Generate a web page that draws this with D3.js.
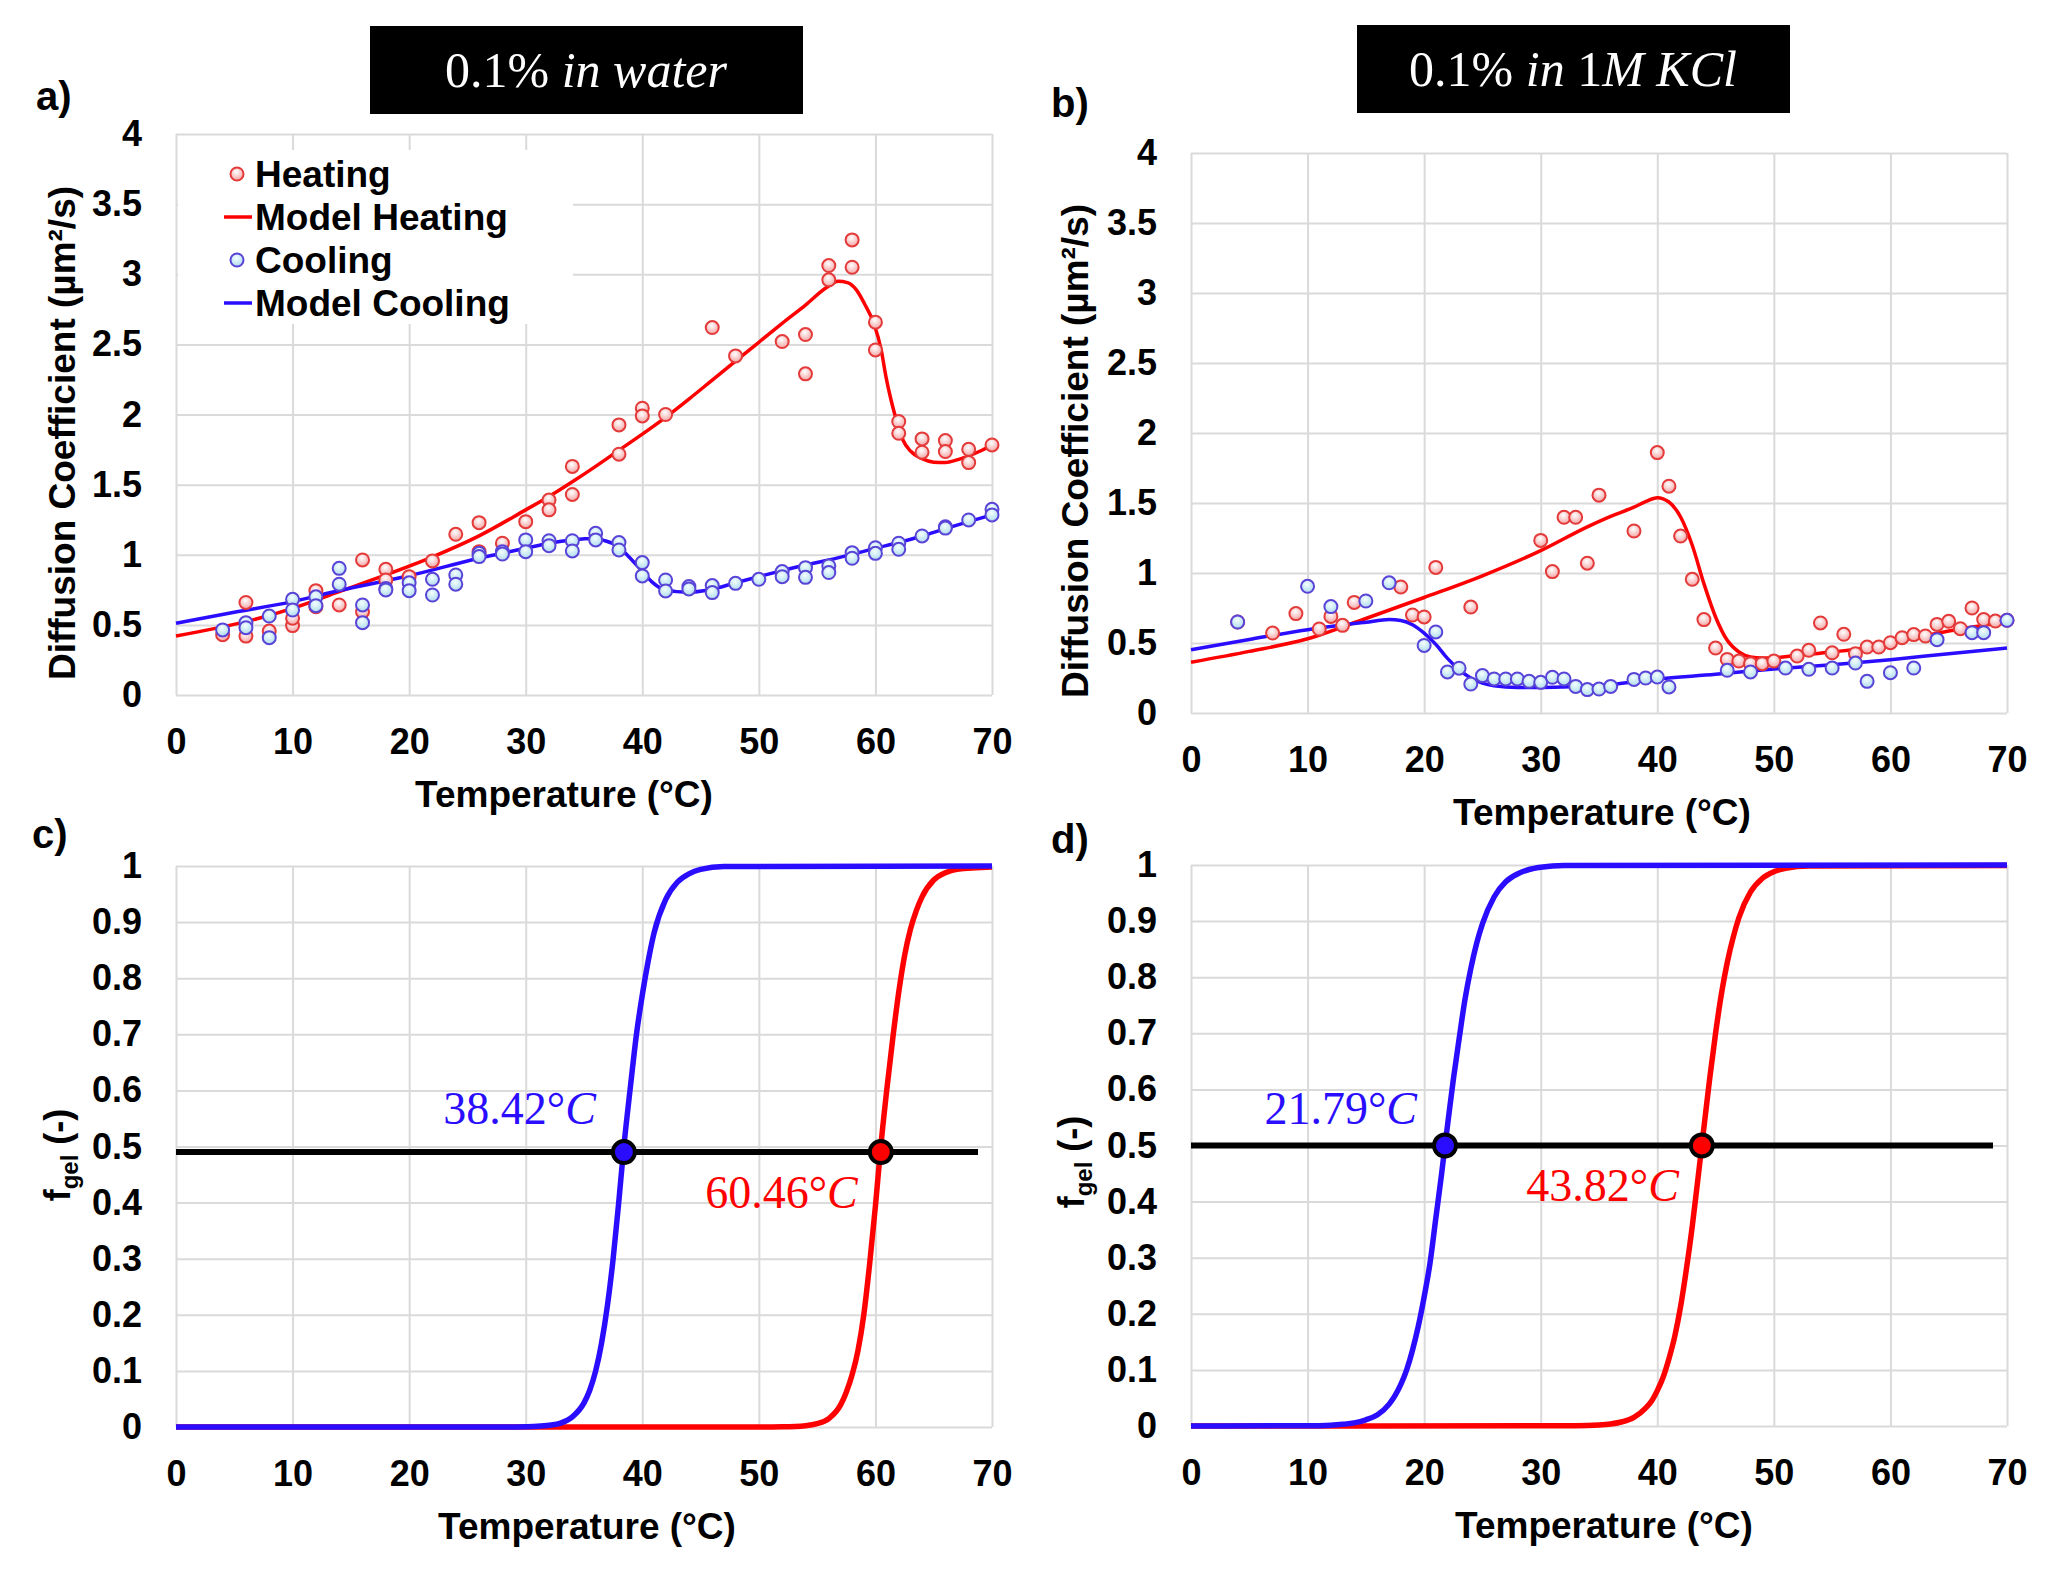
<!DOCTYPE html>
<html>
<head>
<meta charset="utf-8">
<script src="https://cdn.jsdelivr.net/npm/d3@7"></script>
<style>
  body { margin: 0; background: #fff; }
  svg text { font-family: "Liberation Sans", Arial, sans-serif; white-space: pre; }
</style>
</head>
<body>
<svg id="fig" width="2062" height="1572"></svg>
<script>
// ---- data ----
const tempTicks = [0, 10, 20, 30, 40, 50, 60, 70];
const diffTicks = [0, 0.5, 1, 1.5, 2, 2.5, 3, 3.5, 4];
const diffTickLabels = ['0', '0.5', '1', '1.5', '2', '2.5', '3', '3.5', '4'];
const fgelTicks = [0, 0.1, 0.2, 0.3, 0.4, 0.5, 0.6, 0.7, 0.8, 0.9, 1];
const fgelTickLabels = ['0', '0.1', '0.2', '0.3', '0.4', '0.5', '0.6', '0.7', '0.8', '0.9', '1'];
const legendNames = ['Heating', 'Model Heating', 'Cooling', 'Model Cooling'];

// a) 0.1% in water
const waterHeating = [[4,0.43],[6,0.66],[6,0.42],[8,0.456],[10,0.495],[10,0.547],[12,0.744],[12,0.63],
  [14,0.642],[16,0.963],[16,0.594],[18,0.896],[18,0.82],[20,0.844],[22,0.956],[24,1.146],[26,1.229],
  [26,1.022],[28,1.082],[30,1.236],[32,1.39],[32,1.32],[34,1.63],[34,1.43],[38,1.926],[38,1.717],
  [40,2.045],[40,1.99],[42,2.0],[46,2.62],[48,2.418],[52,2.52],[54,2.57],[54,2.29],[56,3.062],[56,2.96],
  [58,3.245],[58,3.05],[60,2.658],[60,2.46],[62,1.95],[62,1.866],[64,1.826],[64,1.731],[66,1.814],
  [66,1.736],[68,1.752],[68,1.657],[70,1.783]];
const waterCooling = [[4,0.464],[6,0.516],[6,0.48],[8,0.563],[8,0.409],[10,0.682],[10,0.606],[12,0.7],
  [12,0.637],[14,0.903],[14,0.79],[16,0.642],[16,0.516],[18,0.76],[18,0.749],[20,0.8],[20,0.744],
  [22,0.825],[22,0.713],[24,0.856],[24,0.79],[26,1.01],[26,0.987],[28,1.022],[28,1.005],[30,1.106],
  [30,1.022],[32,1.1],[32,1.065],[34,1.1],[34,1.027],[36,1.153],[36,1.106],[38,1.087],[38,1.034],
  [40,0.944],[40,0.849],[42,0.82],[42,0.742],[44,0.773],[44,0.756],[46,0.78],[46,0.73],[48,0.796],
  [50,0.825],[52,0.88],[52,0.844],[54,0.908],[54,0.839],[56,0.92],[56,0.873],[58,1.015],[58,0.975],
  [60,1.05],[60,1.01],[62,1.082],[62,1.039],[64,1.134],[66,1.2],[66,1.19],[68,1.248],[70,1.324],[70,1.284]];
const waterModelHeating = [[0,0.421],[6,0.523],[10,0.618],[14,0.737],[18,0.856],[22,0.985],[26,1.135],
  [30,1.32],[32,1.415],[34,1.52],[36,1.63],[38,1.745],[40,1.86],[42,1.98],[44,2.11],[46,2.245],
  [48,2.38],[50,2.515],[52,2.65],[54,2.78],[55.8,2.905],[56.8,2.95],[57.6,2.94],[58.35,2.89],
  [59.06,2.79],[59.86,2.65],[60.5,2.46],[60.9,2.27],[61.35,2.1],[61.8,1.96],[62.35,1.82],[63,1.74],
  [64,1.685],[65,1.66],[66,1.657],[67,1.676],[68,1.705],[69,1.74],[70,1.783]];
const waterModelCooling = [[0,0.511],[5,0.59],[10,0.666],[14,0.745],[20,0.85],[26,0.975],[30,1.046],
  [32,1.082],[34,1.106],[36,1.115],[36.8,1.1],[37.85,1.063],[38.8,0.99],[39.85,0.896],[40.8,0.808],
  [41.85,0.752],[43.85,0.732],[45.85,0.752],[47.85,0.796],[50,0.844],[52,0.887],[54,0.927],[56,0.963],
  [58,1.003],[60,1.046],[62,1.087],[64,1.134],[66,1.186],[68,1.236],[70,1.284]];

// b) 0.1% in 1M KCl
const kclHeating = [[4,0.65],[7,0.571],[9,0.71],[11,0.6],[12,0.69],[13,0.626],[14,0.79],[18,0.9],
  [19,0.7],[20,0.686],[21,1.04],[24,0.757],[30,1.233],[31,1.01],[32,1.398],[33,1.398],[34,1.07],
  [35,1.556],[38,1.3],[40,1.86],[41,1.62],[42,1.264],[43,0.955],[44,0.667],[45,0.464],[46,0.383],
  [47,0.371],[48,0.352],[49,0.352],[50,0.371],[52,0.407],[53,0.448],[54,0.643],[55,0.43],[56,0.562],
  [57,0.424],[58,0.471],[59,0.471],[60,0.502],[61,0.538],[62,0.56],[63,0.55],[64,0.633],[65,0.655],
  [66,0.602],[67,0.75],[68,0.667],[69,0.657],[70,0.662]];
const kclCooling = [[4,0.65],[10,0.905],[12,0.76],[15,0.8],[17,0.93],[20,0.483],[21,0.579],[22,0.293],
  [23,0.32],[24,0.207],[25,0.267],[26,0.243],[27,0.243],[28,0.243],[29,0.226],[30,0.219],[31,0.255],
  [32,0.243],[33,0.19],[34,0.167],[35,0.171],[36,0.19],[38,0.24],[39,0.25],[40,0.257],[41,0.186],
  [46,0.305],[48,0.293],[51,0.321],[53,0.312],[55,0.321],[57,0.357],[58,0.226],[60,0.288],[62,0.321],
  [64,0.524],[67,0.574],[68,0.574],[70,0.662]];
const kclModelHeating = [[0,0.362],[5,0.44],[10,0.53],[15,0.675],[20,0.825],[25,0.98],[30,1.16],
  [34,1.33],[36,1.405],[38,1.47],[39,1.51],[40,1.538],[41,1.507],[42,1.4],[43,1.198],[44,0.924],
  [45,0.686],[46,0.519],[47,0.436],[48,0.4],[49,0.393],[50,0.395],[52,0.412],[55,0.436],[58,0.466],
  [60,0.5],[62,0.535],[65,0.586],[68,0.626],[70,0.65]];
const kclModelCooling = [[0,0.452],[5,0.525],[10,0.595],[15,0.648],[17,0.667],[18,0.66],[19,0.63],
  [20,0.57],[21,0.49],[22,0.39],[23,0.31],[24,0.25],[25,0.214],[26,0.195],[28,0.183],[30,0.183],
  [32,0.186],[35,0.195],[40,0.243],[45,0.276],[50,0.314],[55,0.345],[60,0.381],[65,0.424],[70,0.464]];

// c) gel fraction, water
const waterGelCooling = [[0,0],[28,0],[30,0.0005],[31,0.0012],[32,0.003],[33,0.007],[34,0.018],
  [35,0.043],[35.5,0.066],[36,0.1],[36.5,0.149],[37,0.215],[37.5,0.3],[38,0.405],[38.42,0.5],[39,0.61],
  [39.5,0.7],[40,0.77],[40.5,0.83],[41,0.88],[42,0.94],[43,0.971],[44,0.986],[45,0.994],[47,0.999],[70,1]];
const waterGelHeating = [[0,0],[50,0],[52,0.0004],[54,0.0024],[55,0.006],[56,0.015],[57,0.039],
  [57.5,0.062],[58,0.093],[58.5,0.136],[59,0.2],[59.5,0.29],[60,0.394],[60.46,0.5],[61,0.606],
  [61.5,0.695],[62,0.775],[62.5,0.84],[63,0.887],[63.5,0.92],[64,0.945],[65,0.975],[66,0.988],
  [67,0.994],[70,0.998]];
const waterTransitions = [38.42, 60.46];
const waterHalf = 0.49;

// d) gel fraction, KCl
const kclGelCooling = [[0,0],[10,0.0005],[12,0.0015],[13,0.003],[14,0.0055],[15,0.011],[16,0.02],
  [17,0.039],[17.5,0.054],[18,0.074],[18.5,0.1],[19,0.135],[19.5,0.178],[20,0.23],[20.5,0.29],
  [21,0.37],[21.5,0.45],[21.79,0.5],[22,0.535],[22.5,0.617],[23,0.69],[23.5,0.76],[24,0.815],
  [24.5,0.86],[25,0.895],[26,0.943],[27,0.97],[28,0.984],[29,0.992],[30,0.996],[32,0.999],[70,1]];
const kclGelHeating = [[0,0],[33,0.0005],[35,0.0018],[36,0.0037],[37,0.0076],[38,0.0155],[39,0.032],
  [39.5,0.044],[40,0.063],[40.5,0.087],[41,0.12],[41.5,0.16],[42,0.213],[42.5,0.28],[43,0.356],
  [43.5,0.443],[43.82,0.5],[44,0.532],[44.5,0.62],[45,0.7],[45.5,0.77],[46,0.826],[46.5,0.87],
  [47,0.906],[48,0.952],[49,0.976],[50,0.988],[51,0.994],[53,0.998],[70,0.999]];
const kclTransitions = [21.79, 43.82];
const kclHalf = 0.5;
const halfLineEnd = 68.8;

// ---- drawing ----
const RED = '#ff0000', BLUE = '#2a0cff';
const svg = d3.select('#fig');
svg.append('rect').attr('width', 2062).attr('height', 1572).attr('fill', '#fff');

const defs = svg.append('defs');
function addGradient(id, c0, c1) {
  const g = defs.append('radialGradient').attr('id', id)
    .attr('cx', '45%').attr('cy', '35%').attr('r', '65%');
  g.append('stop').attr('offset', '0%').attr('stop-color', c0);
  g.append('stop').attr('offset', '100%').attr('stop-color', c1);
}
addGradient('gHeat', '#ffffff', '#f4a3a3');
addGradient('gCool', '#f4ffff', '#aedaec');

function makePanel(box, yDomain, yTicks, yLabels, titleShift) {
  const x = d3.scaleLinear().domain([0, 70]).range([box.l, box.l + box.w]);
  const y = d3.scaleLinear().domain(yDomain).range([box.t + box.h, box.t]);

  const gx = svg.append('g')
    .attr('transform', `translate(0,${box.t + box.h})`)
    .call(d3.axisBottom(x).tickValues(tempTicks).tickSize(-box.h).tickPadding(33));
  const gy = svg.append('g')
    .attr('transform', `translate(${box.l},0)`)
    .call(d3.axisLeft(y).tickValues(yTicks).tickSize(-box.w).tickPadding(34)
      .tickFormat((d, i) => yLabels[i]));

  [gx, gy].forEach(g => {
    g.select('.domain').remove();
    g.selectAll('.tick line').attr('stroke', '#dadada').attr('stroke-width', 2);
    g.selectAll('.tick text')
      .attr('fill', '#000')
      .style('font-family', '"Liberation Sans", Arial, sans-serif')
      .style('font-size', '36px')
      .style('font-weight', 'bold');
  });

  svg.append('text')
    .attr('x', box.l + box.w / 2 + titleShift)
    .attr('y', box.t + box.h + 112)
    .attr('text-anchor', 'middle')
    .style('font-size', '37px').style('font-weight', 'bold')
    .text('Temperature (°C)');
  return { x, y };
}

function panelLetter(txt, px, py) {
  svg.append('text').attr('x', px).attr('y', py)
    .style('font-size', '40px').style('font-weight', 'bold').text(txt);
}

function titleBox(bx, by, parts) {
  svg.append('rect').attr('x', bx).attr('y', by).attr('width', 433).attr('height', 88).attr('fill', '#000');
  const t = svg.append('text').attr('x', bx + 216).attr('y', by + 61)
    .attr('text-anchor', 'middle').attr('fill', '#fff')
    .style('font-family', '"Liberation Serif", "DejaVu Serif", serif').style('font-size', '50px');
  parts.forEach(p => t.append('tspan').style('font-style', p[1] ? 'italic' : 'normal').text(p[0]));
}

function diffYTitle(px, py) {
  svg.append('text')
    .attr('transform', `translate(${px},${py}) rotate(-90)`)
    .attr('text-anchor', 'middle')
    .style('font-size', '37px').style('font-weight', 'bold')
    .text('Diffusion Coefficient (µm²/s)');
}

function fgelYTitle(px, py) {
  const t = svg.append('text')
    .attr('transform', `translate(${px},${py}) rotate(-90)`)
    .attr('text-anchor', 'middle')
    .style('font-size', '36px').style('font-weight', 'bold');
  t.append('tspan').text('f');
  t.append('tspan').attr('dy', 8).style('font-size', '24px').text('gel');
  t.append('tspan').attr('dy', -8).text(' (-)');
}

function drawDiffusion(p, heat, cool, mHeat, mCool) {
  const line = d3.line().x(d => p.x(d[0])).y(d => p.y(d[1])).curve(d3.curveMonotoneX);
  svg.append('path').datum(mHeat).attr('d', line).attr('fill', 'none')
    .attr('stroke', RED).attr('stroke-width', 3.5);
  svg.append('path').datum(mCool).attr('d', line).attr('fill', 'none')
    .attr('stroke', BLUE).attr('stroke-width', 3.5);
  svg.append('g').selectAll('circle').data(heat).join('circle')
    .attr('cx', d => p.x(d[0])).attr('cy', d => p.y(d[1])).attr('r', 6.5)
    .attr('fill', 'url(#gHeat)').attr('stroke', '#e43a3a').attr('stroke-width', 2);
  svg.append('g').selectAll('circle').data(cool).join('circle')
    .attr('cx', d => p.x(d[0])).attr('cy', d => p.y(d[1])).attr('r', 6.5)
    .attr('fill', 'url(#gCool)').attr('stroke', '#5a44d8').attr('stroke-width', 2);
}

function drawGel(p, gCool, gHeat, trans, half, labelDy) {
  const line = d3.line().x(d => p.x(d[0])).y(d => p.y(d[1])).curve(d3.curveMonotoneX);
  svg.append('path').datum(gHeat).attr('d', line).attr('fill', 'none')
    .attr('stroke', RED).attr('stroke-width', 5.5);
  svg.append('path').datum(gCool).attr('d', line).attr('fill', 'none')
    .attr('stroke', BLUE).attr('stroke-width', 5.5);
  svg.append('line')
    .attr('x1', p.x(0)).attr('x2', p.x(halfLineEnd))
    .attr('y1', p.y(half)).attr('y2', p.y(half))
    .attr('stroke', '#000').attr('stroke-width', 6);
  const cols = [BLUE, RED];
  svg.append('g').selectAll('circle').data(trans).join('circle')
    .attr('cx', d => p.x(d)).attr('cy', p.y(half)).attr('r', 11)
    .attr('fill', (d, i) => cols[i]).attr('stroke', '#000').attr('stroke-width', 4);
  trans.forEach((T, i) => {
    const t = svg.append('text')
      .attr('x', p.x(T) - (i === 0 ? 28 : 23))
      .attr('y', p.y(half) + labelDy[i])
      .attr('text-anchor', 'end').attr('fill', cols[i])
      .style('font-family', '"Liberation Serif", "DejaVu Serif", serif').style('font-size', '46px');
    t.append('tspan').text(T.toFixed(2) + '°');
    t.append('tspan').style('font-style', 'italic').text('C');
  });
}

// panel a
const pa = makePanel({ l: 176, t: 134, w: 816, h: 561 }, [0, 4], diffTicks, diffTickLabels, -20);
svg.append('rect').attr('x', 178).attr('y', 150).attr('width', 395).attr('height', 174).attr('fill', '#fff');
drawDiffusion(pa, waterHeating, waterCooling, waterModelHeating, waterModelCooling);
diffYTitle(75, 433);
panelLetter('a)', 36, 110);
titleBox(370, 26, [['0.1% ', false], ['in water', true]]);

// legend of panel a
const legRows = [174, 217, 260, 303];
legendNames.forEach((name, i) => {
  const ly = legRows[i];
  if (i % 2 === 0) {
    svg.append('circle').attr('cx', 237).attr('cy', ly).attr('r', 6.5)
      .attr('fill', i === 0 ? 'url(#gHeat)' : 'url(#gCool)')
      .attr('stroke', i === 0 ? '#e43a3a' : '#5a44d8').attr('stroke-width', 2);
  } else {
    svg.append('line').attr('x1', 224).attr('x2', 252).attr('y1', ly).attr('y2', ly)
      .attr('stroke', i === 1 ? RED : BLUE).attr('stroke-width', 3.5);
  }
  svg.append('text').attr('x', 255).attr('y', ly + 13)
    .style('font-size', '37px').style('font-weight', 'bold').text(name);
});

// panel b
const pb = makePanel({ l: 1191, t: 153, w: 816, h: 560 }, [0, 4], diffTicks, diffTickLabels, 3);
drawDiffusion(pb, kclHeating, kclCooling, kclModelHeating, kclModelCooling);
diffYTitle(1088, 451);
panelLetter('b)', 1051, 117);
titleBox(1357, 25, [['0.1% ', false], ['in ', true], ['1', false], ['M KCl', true]]);

// panel c
const pc = makePanel({ l: 176, t: 866, w: 816, h: 561 }, [0, 1], fgelTicks, fgelTickLabels, 3);
drawGel(pc, waterGelCooling, waterGelHeating, waterTransitions, waterHalf, [-28, 56]);
fgelYTitle(70, 1155);
panelLetter('c)', 32, 848);

// panel d
const pd = makePanel({ l: 1191, t: 865, w: 816, h: 561 }, [0, 1], fgelTicks, fgelTickLabels, 5);
drawGel(pd, kclGelCooling, kclGelHeating, kclTransitions, kclHalf, [-22, 55]);
fgelYTitle(1084, 1162);
panelLetter('d)', 1051, 853);
</script>
</body>
</html>
